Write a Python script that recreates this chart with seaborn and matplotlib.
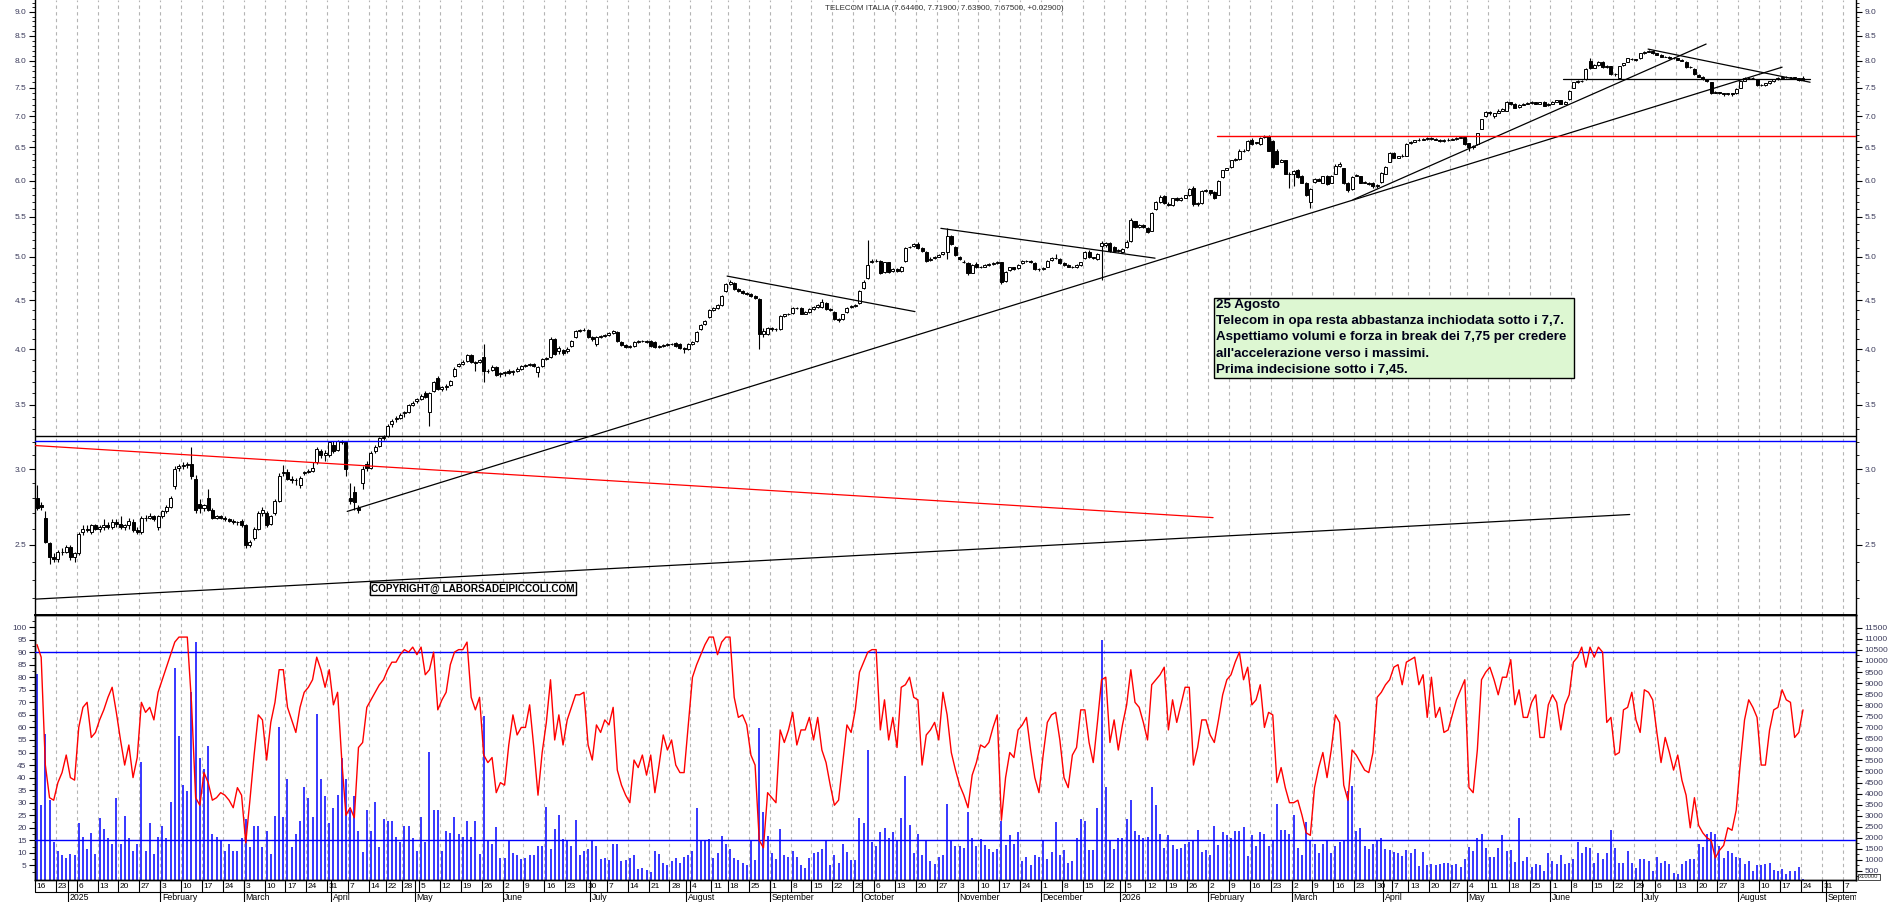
import numpy as np
import pandas as pd
import matplotlib
matplotlib.use("Agg")
import matplotlib.pyplot as plt
import matplotlib.transforms as mtransforms
from matplotlib.patches import Rectangle
from matplotlib.ticker import FixedLocator, FixedFormatter, NullFormatter
import seaborn as sns

# ------------------------------------------------------------------ data
title_text = "TELECOM ITALIA (7.64400, 7.71900, 7.63900, 7.67500, +0.02900)"
note_lines = ["25 Agosto",
              "Telecom in opa resta abbastanza inchiodata sotto i 7,7.",
              "Aspettiamo volumi e forza in break dei 7,75 per credere",
              "all'accelerazione verso i massimi.",
              "Prima indecisione sotto i 7,45."]
copyright_text = "COPYRIGHT@ LABORSADEIPICCOLI.COM"

first_day = "2024-12-16"
last_axis_day = "2026-09-11"
holidays = ["2024-12-24", "2024-12-25", "2024-12-26", "2024-12-31", "2025-01-01",
            "2025-04-18", "2025-04-21", "2025-05-01", "2025-08-15", "2025-12-24",
            "2025-12-25", "2025-12-26", "2025-12-31", "2026-01-01", "2026-04-03",
            "2026-04-06", "2026-05-01"]
month_names = ["January", "February", "March", "April", "May", "June", "July",
               "August", "September", "October", "November", "December"]

opens = [
    2.80, 2.75, 2.67, 2.51, 2.43,
    2.42, 2.46,
    2.46, 2.49, 2.43,
    2.45, 2.58, 2.60, 2.58, 2.62,
    2.60, 2.61, 2.62, 2.61, 2.64,
    2.63, 2.61, 2.62, 2.64, 2.59,
    2.58, 2.67, 2.67, 2.68, 2.61,
    2.68, 2.71, 2.74, 2.88, 3.01,
    3.02, 3.03, 3.04, 2.93, 2.76,
    2.73, 2.80, 2.72, 2.67, 2.68,
    2.67, 2.66, 2.65, 2.64, 2.65,
    2.62, 2.50, 2.54, 2.60, 2.70,
    2.70, 2.63, 2.70, 2.78, 2.97,
    2.98, 2.93, 2.92, 2.89, 2.97,
    2.98, 2.99, 3.05, 3.13, 3.10,
    3.10, 3.18, 3.14, 3.21, 3.20,
    2.80, 2.84, 2.73, 2.90, 3.04,
    3.01, 3.13, 3.17, 3.23,
    3.25, 3.34, 3.38, 3.39,
    3.43, 3.44, 3.50, 3.53,
    3.55, 3.60, 3.44, 3.62, 3.73,
    3.64, 3.65, 3.67, 3.75, 3.84,
    3.86, 3.89, 3.95, 3.88, 3.88,
    3.93, 3.80, 3.81, 3.83, 3.77,
    3.78, 3.80, 3.79, 3.80, 3.82,
    3.84, 3.85, 3.86, 3.79, 3.84,
    3.91, 3.93, 4.10, 3.98, 3.99,
    3.98, 4.03, 4.12, 4.18, 4.19,
    4.19, 4.12, 4.05, 4.12, 4.13,
    4.14, 4.16, 4.17, 4.07, 4.04,
    4.02, 4.03, 4.07, 4.08, 4.08,
    4.08, 4.07, 4.02, 4.03, 4.04,
    4.05, 4.06, 4.05, 4.01, 4.00,
    4.05, 4.08, 4.20, 4.25, 4.32,
    4.40, 4.42, 4.45, 4.60,
    4.68, 4.69, 4.62, 4.60, 4.58,
    4.57, 4.55, 4.52, 4.15, 4.15,
    4.21, 4.20, 4.20, 4.33, 4.35,
    4.37, 4.42, 4.42, 4.36, 4.38,
    4.41, 4.43, 4.43, 4.47, 4.41,
    4.38, 4.30, 4.30, 4.38, 4.43,
    4.44, 4.47, 4.63, 4.75, 4.93,
    4.95, 4.95, 4.82, 4.93, 4.83,
    4.85, 4.83, 4.95, 5.11, 5.13,
    5.15, 5.10, 5.06, 4.96, 4.98,
    5.00, 5.03, 5.05, 5.25, 5.12,
    5.00, 4.94, 4.92, 4.81, 4.91,
    4.87, 4.88, 4.90, 4.91, 4.92,
    4.93, 4.71, 4.84, 4.87, 4.86,
    4.92, 4.95, 4.95, 4.92, 4.85,
    4.85, 4.88, 4.96, 4.98, 4.97,
    4.92, 4.90, 4.88, 4.87, 4.90,
    4.98, 5.06, 4.99, 4.97, 5.13,
    5.14, 5.17,
    5.12, 5.07, 5.06,
    5.12, 5.19, 5.44, 5.37, 5.39,
    5.36, 5.32, 5.60, 5.70, 5.78,
    5.67, 5.66, 5.75, 5.73, 5.76,
    5.79, 5.90, 5.67, 5.68, 5.85,
    5.86, 5.84, 5.80, 6.05, 6.16,
    6.20, 6.30, 6.32, 6.45, 6.46,
    6.62, 6.56, 6.55, 6.66, 6.68,
    6.60, 6.45, 6.28, 6.30, 6.10,
    6.10, 6.16, 6.07, 5.97, 5.70,
    5.98, 6.02, 5.97, 6.06, 5.97,
    6.10, 6.22, 6.18, 5.97, 5.88,
    6.07, 6.06, 5.97, 5.96, 5.97,
    5.92, 5.98, 6.10, 6.28,
    6.41, 6.34, 6.36, 6.37,
    6.56, 6.59, 6.61, 6.62, 6.63,
    6.64, 6.63, 6.62, 6.60, 6.61,
    6.62, 6.63, 6.65, 6.66,
    6.56, 6.50, 6.55, 6.80, 7.00,
    7.07, 7.00, 7.06, 7.10, 7.10,
    7.24, 7.22, 7.16, 7.20, 7.22,
    7.23, 7.24, 7.22, 7.24, 7.19,
    7.22, 7.25, 7.28, 7.22, 7.30,
    7.50, 7.60, 7.62, 7.65, 8.00,
    7.87, 7.92, 7.98, 7.88, 7.90,
    7.75, 7.68, 7.92, 7.98, 8.04,
    8.03, 8.05, 8.15, 8.18, 8.20,
    8.15, 8.12, 8.08, 8.08, 8.05,
    8.05, 8.02, 7.98, 7.88, 7.85,
    7.74, 7.70, 7.65, 7.60, 7.41,
    7.42, 7.40, 7.38, 7.40, 7.40,
    7.50, 7.63, 7.68, 7.68, 7.65,
    7.55, 7.55, 7.58, 7.62, 7.65,
    7.68, 7.70, 7.69, 7.69, 7.67,
    7.644,
]

highs = [
    2.89, 2.77, 2.71, 2.52, 2.45,
    2.47, 2.48,
    2.50, 2.50, 2.46,
    2.58, 2.62, 2.62, 2.63, 2.63,
    2.62, 2.66, 2.64, 2.66, 2.66,
    2.68, 2.63, 2.67, 2.66, 2.61,
    2.68, 2.69, 2.70, 2.69, 2.69,
    2.72, 2.75, 2.81, 3.02, 3.04,
    3.05, 3.05, 3.16, 2.96, 2.79,
    2.76, 2.86, 2.73, 2.69, 2.69,
    2.68, 2.67, 2.66, 2.65, 2.66,
    2.63, 2.53, 2.61, 2.71, 2.74,
    2.71, 2.69, 2.79, 2.97, 3.03,
    3.00, 2.95, 2.94, 2.95, 2.99,
    3.00, 3.05, 3.16, 3.15, 3.14,
    3.21, 3.21, 3.22, 3.22, 3.21,
    2.90, 2.88, 2.75, 3.02, 3.06,
    3.13, 3.18, 3.24, 3.26,
    3.34, 3.38, 3.41, 3.43,
    3.45, 3.51, 3.53, 3.56,
    3.59, 3.62, 3.61, 3.71, 3.75,
    3.66, 3.68, 3.72, 3.83, 3.87,
    3.90, 3.96, 3.96, 3.89, 3.91,
    4.05, 3.82, 3.85, 3.84, 3.79,
    3.80, 3.82, 3.81, 3.83, 3.85,
    3.86, 3.87, 3.87, 3.84, 3.92,
    3.93, 4.12, 4.11, 4.03, 4.00,
    4.02, 4.09, 4.19, 4.20, 4.21,
    4.20, 4.13, 4.13, 4.14, 4.15,
    4.17, 4.19, 4.18, 4.08, 4.05,
    4.04, 4.08, 4.09, 4.09, 4.09,
    4.09, 4.08, 4.04, 4.05, 4.06,
    4.06, 4.07, 4.06, 4.02, 4.06,
    4.08, 4.18, 4.25, 4.29, 4.41,
    4.43, 4.46, 4.56, 4.69,
    4.72, 4.70, 4.63, 4.61, 4.59,
    4.58, 4.56, 4.53, 4.21, 4.22,
    4.22, 4.21, 4.34, 4.36, 4.37,
    4.43, 4.43, 4.43, 4.39, 4.42,
    4.44, 4.46, 4.52, 4.48, 4.42,
    4.39, 4.31, 4.36, 4.43, 4.45,
    4.46, 4.61, 4.72, 5.20, 4.97,
    4.97, 4.96, 4.94, 4.94, 4.86,
    4.86, 4.89, 5.11, 5.13, 5.16,
    5.18, 5.11, 5.07, 4.99, 5.01,
    5.03, 5.06, 5.35, 5.27, 5.13,
    5.01, 4.96, 4.94, 4.91, 4.93,
    4.89, 4.91, 4.92, 4.93, 4.95,
    4.94, 4.83, 4.88, 4.88, 4.91,
    4.96, 4.96, 4.96, 4.93, 4.86,
    4.87, 4.96, 4.99, 5.03, 4.98,
    4.93, 4.91, 4.89, 4.91, 4.94,
    5.07, 5.08, 5.00, 5.04, 5.19,
    5.18, 5.18,
    5.13, 5.09, 5.10,
    5.20, 5.48, 5.45, 5.40, 5.40,
    5.37, 5.56, 5.72, 5.79, 5.79,
    5.70, 5.76, 5.77, 5.77, 5.80,
    5.90, 5.92, 5.70, 5.86, 5.88,
    5.87, 5.85, 6.01, 6.16, 6.19,
    6.31, 6.34, 6.47, 6.47, 6.61,
    6.64, 6.59, 6.66, 6.70, 6.69,
    6.62, 6.47, 6.32, 6.31, 6.12,
    6.16, 6.17, 6.08, 5.98, 5.90,
    6.04, 6.04, 6.07, 6.08, 6.08,
    6.24, 6.28, 6.19, 5.98, 6.06,
    6.09, 6.07, 5.99, 5.98, 5.98,
    5.95, 6.12, 6.22, 6.42,
    6.43, 6.37, 6.39, 6.56,
    6.60, 6.62, 6.64, 6.65, 6.66,
    6.66, 6.65, 6.63, 6.63, 6.64,
    6.64, 6.66, 6.67, 6.68,
    6.57, 6.54, 6.73, 6.96, 7.09,
    7.09, 7.06, 7.12, 7.14, 7.26,
    7.25, 7.23, 7.21, 7.23, 7.24,
    7.26, 7.25, 7.25, 7.26, 7.23,
    7.26, 7.29, 7.29, 7.26, 7.46,
    7.61, 7.64, 7.64, 7.86, 8.05,
    7.94, 7.99, 7.99, 7.92, 7.91,
    7.77, 7.91, 7.96, 8.06, 8.05,
    8.04, 8.16, 8.20, 8.22, 8.21,
    8.16, 8.13, 8.10, 8.09, 8.07,
    8.06, 8.03, 7.99, 7.90, 7.86,
    7.75, 7.71, 7.66, 7.61, 7.44,
    7.43, 7.41, 7.41, 7.41, 7.49,
    7.63, 7.69, 7.70, 7.70, 7.66,
    7.56, 7.59, 7.63, 7.66, 7.69,
    7.71, 7.71, 7.70, 7.70, 7.68,
    7.719,
]

lows = [
    2.72, 2.72, 2.51, 2.39, 2.40,
    2.40, 2.44,
    2.45, 2.41, 2.40,
    2.44, 2.56, 2.58, 2.57, 2.59,
    2.58, 2.59, 2.60, 2.60, 2.61,
    2.60, 2.59, 2.60, 2.58, 2.57,
    2.57, 2.65, 2.66, 2.65, 2.59,
    2.67, 2.70, 2.73, 2.86, 2.99,
    3.00, 3.01, 2.93, 2.70, 2.70,
    2.71, 2.71, 2.66, 2.66, 2.66,
    2.65, 2.64, 2.63, 2.62, 2.61,
    2.48, 2.49, 2.53, 2.59, 2.68,
    2.61, 2.62, 2.69, 2.77, 2.95,
    2.92, 2.90, 2.89, 2.87, 2.96,
    2.97, 2.98, 3.04, 3.08, 3.06,
    3.09, 3.12, 3.13, 3.19, 2.95,
    2.76, 2.72, 2.70, 2.86, 2.99,
    3.00, 3.12, 3.16, 3.22,
    3.24, 3.32, 3.36, 3.38,
    3.40, 3.43, 3.49, 3.52,
    3.54, 3.56, 3.33, 3.61, 3.63,
    3.62, 3.63, 3.66, 3.74, 3.83,
    3.85, 3.88, 3.87, 3.80, 3.87,
    3.70, 3.78, 3.80, 3.75, 3.74,
    3.75, 3.77, 3.76, 3.79, 3.81,
    3.83, 3.84, 3.83, 3.74, 3.83,
    3.90, 3.92, 3.95, 3.96, 3.95,
    3.97, 4.02, 4.11, 4.17, 4.18,
    4.11, 4.08, 4.03, 4.11, 4.12,
    4.13, 4.15, 4.07, 4.03, 4.01,
    4.01, 4.02, 4.06, 4.07, 4.06,
    4.02, 4.01, 4.01, 4.02, 4.03,
    4.04, 4.02, 4.00, 3.97, 3.99,
    4.04, 4.07, 4.19, 4.24, 4.31,
    4.39, 4.41, 4.44, 4.59,
    4.67, 4.61, 4.59, 4.57, 4.56,
    4.54, 4.52, 4.00, 4.12, 4.14,
    4.18, 4.18, 4.19, 4.32, 4.34,
    4.36, 4.41, 4.35, 4.35, 4.37,
    4.40, 4.42, 4.42, 4.40, 4.39,
    4.29, 4.27, 4.29, 4.37, 4.42,
    4.43, 4.46, 4.62, 4.74, 4.92,
    4.94, 4.79, 4.81, 4.81, 4.82,
    4.82, 4.82, 4.94, 5.10, 5.12,
    5.09, 5.06, 4.94, 4.95, 4.97,
    4.99, 5.02, 4.97, 5.14, 5.01,
    4.96, 4.92, 4.78, 4.80, 4.86,
    4.86, 4.87, 4.89, 4.90, 4.91,
    4.68, 4.70, 4.83, 4.84, 4.85,
    4.91, 4.93, 4.92, 4.84, 4.83,
    4.84, 4.87, 4.95, 4.97, 4.91,
    4.89, 4.87, 4.86, 4.86, 4.89,
    4.97, 4.98, 4.97, 4.96, 4.72,
    5.12, 5.06,
    5.06, 5.05, 5.05,
    5.10, 5.18, 5.36, 5.36, 5.36,
    5.29, 5.31, 5.59, 5.69, 5.67,
    5.64, 5.65, 5.71, 5.72, 5.75,
    5.78, 5.65, 5.65, 5.67, 5.84,
    5.80, 5.74, 5.79, 6.04, 6.15,
    6.19, 6.29, 6.31, 6.43, 6.45,
    6.54, 6.55, 6.54, 6.65, 6.44,
    6.18, 6.24, 6.27, 6.09, 5.90,
    5.92, 6.04, 5.96, 5.78, 5.62,
    5.96, 5.99, 5.96, 5.94, 5.96,
    6.09, 6.20, 5.95, 5.84, 5.87,
    6.06, 5.96, 5.96, 5.94, 5.90,
    5.90, 5.97, 6.09, 6.27,
    6.33, 6.33, 6.35, 6.36,
    6.55, 6.58, 6.60, 6.61, 6.62,
    6.62, 6.61, 6.59, 6.59, 6.60,
    6.61, 6.62, 6.64, 6.54,
    6.45, 6.48, 6.54, 6.79, 6.99,
    7.03, 6.98, 7.05, 7.09, 7.09,
    7.20, 7.14, 7.15, 7.19, 7.21,
    7.22, 7.21, 7.21, 7.17, 7.18,
    7.21, 7.24, 7.21, 7.21, 7.29,
    7.49, 7.59, 7.60, 7.64, 7.84,
    7.86, 7.91, 7.87, 7.87, 7.74,
    7.72, 7.66, 7.91, 7.97, 8.01,
    8.00, 8.04, 8.14, 8.17, 8.13,
    8.11, 8.07, 8.07, 8.04, 8.04,
    8.01, 7.99, 7.87, 7.86, 7.74,
    7.69, 7.64, 7.61, 7.39, 7.40,
    7.38, 7.36, 7.37, 7.36, 7.39,
    7.49, 7.62, 7.66, 7.67, 7.54,
    7.53, 7.54, 7.57, 7.61, 7.64,
    7.67, 7.68, 7.67, 7.66, 7.63,
    7.639,
]

closes = [
    2.73, 2.74, 2.52, 2.43, 2.42,
    2.46, 2.46,
    2.49, 2.43, 2.45,
    2.57, 2.60, 2.59, 2.62, 2.60,
    2.61, 2.62, 2.61, 2.64, 2.63,
    2.61, 2.62, 2.65, 2.59, 2.58,
    2.67, 2.67, 2.68, 2.66, 2.68,
    2.71, 2.74, 2.80, 3.00, 3.02,
    3.03, 3.04, 2.95, 2.72, 2.73,
    2.75, 2.72, 2.67, 2.68, 2.67,
    2.66, 2.65, 2.64, 2.64, 2.62,
    2.50, 2.52, 2.60, 2.70, 2.72,
    2.62, 2.68, 2.78, 2.95, 2.98,
    2.93, 2.92, 2.92, 2.94, 2.98,
    2.99, 3.01, 3.15, 3.10, 3.12,
    3.20, 3.13, 3.21, 3.20, 3.00,
    2.78, 2.77, 2.72, 3.00, 3.01,
    3.12, 3.16, 3.23, 3.24,
    3.33, 3.37, 3.39, 3.42,
    3.44, 3.50, 3.52, 3.55,
    3.58, 3.57, 3.60, 3.70, 3.64,
    3.65, 3.66, 3.71, 3.82, 3.86,
    3.88, 3.95, 3.88, 3.87, 3.90,
    3.80, 3.80, 3.83, 3.76, 3.78,
    3.79, 3.78, 3.80, 3.82, 3.84,
    3.85, 3.86, 3.84, 3.83, 3.91,
    3.92, 4.10, 3.96, 4.01, 3.97,
    4.00, 4.08, 4.18, 4.19, 4.19,
    4.12, 4.10, 4.12, 4.13, 4.14,
    4.16, 4.18, 4.08, 4.04, 4.02,
    4.03, 4.07, 4.08, 4.08, 4.07,
    4.03, 4.02, 4.03, 4.04, 4.05,
    4.05, 4.03, 4.01, 4.00, 4.05,
    4.07, 4.17, 4.24, 4.28, 4.40,
    4.42, 4.45, 4.55, 4.68,
    4.70, 4.62, 4.60, 4.58, 4.57,
    4.55, 4.53, 4.15, 4.18, 4.21,
    4.20, 4.20, 4.33, 4.35, 4.36,
    4.42, 4.42, 4.36, 4.38, 4.41,
    4.43, 4.45, 4.48, 4.41, 4.40,
    4.30, 4.29, 4.35, 4.42, 4.44,
    4.45, 4.60, 4.70, 4.90, 4.95,
    4.95, 4.80, 4.93, 4.82, 4.85,
    4.83, 4.88, 5.10, 5.12, 5.15,
    5.10, 5.07, 4.95, 4.97, 5.00,
    5.02, 5.05, 5.25, 5.15, 5.02,
    4.97, 4.93, 4.81, 4.90, 4.87,
    4.88, 4.90, 4.91, 4.92, 4.94,
    4.70, 4.82, 4.87, 4.85, 4.90,
    4.95, 4.95, 4.93, 4.85, 4.85,
    4.86, 4.95, 4.98, 4.98, 4.92,
    4.90, 4.88, 4.87, 4.90, 4.93,
    5.06, 4.99, 4.98, 5.03, 5.16,
    5.17, 5.07,
    5.07, 5.08, 5.09,
    5.18, 5.46, 5.37, 5.39, 5.37,
    5.30, 5.55, 5.70, 5.77, 5.68,
    5.66, 5.75, 5.73, 5.76, 5.79,
    5.88, 5.67, 5.68, 5.85, 5.86,
    5.82, 5.75, 6.00, 6.15, 6.18,
    6.30, 6.32, 6.45, 6.45, 6.60,
    6.55, 6.58, 6.65, 6.68, 6.45,
    6.20, 6.25, 6.30, 6.10, 6.09,
    6.14, 6.05, 5.97, 5.80, 5.88,
    6.02, 6.00, 6.06, 5.95, 6.07,
    6.22, 6.24, 5.96, 5.86, 6.05,
    6.08, 5.97, 5.98, 5.95, 5.92,
    5.94, 6.11, 6.20, 6.41,
    6.34, 6.36, 6.37, 6.55,
    6.59, 6.61, 6.62, 6.63, 6.64,
    6.63, 6.62, 6.60, 6.61, 6.62,
    6.63, 6.65, 6.66, 6.55,
    6.50, 6.52, 6.72, 6.95, 7.08,
    7.05, 7.05, 7.10, 7.12, 7.25,
    7.22, 7.15, 7.20, 7.22, 7.23,
    7.25, 7.22, 7.24, 7.18, 7.22,
    7.25, 7.28, 7.22, 7.25, 7.45,
    7.60, 7.62, 7.62, 7.85, 7.86,
    7.92, 7.98, 7.88, 7.90, 7.75,
    7.75, 7.90, 7.95, 8.05, 8.03,
    8.02, 8.15, 8.18, 8.20, 8.15,
    8.12, 8.08, 8.08, 8.05, 8.05,
    8.02, 8.00, 7.88, 7.88, 7.75,
    7.70, 7.65, 7.62, 7.40, 7.42,
    7.40, 7.38, 7.40, 7.38, 7.48,
    7.62, 7.68, 7.68, 7.68, 7.55,
    7.55, 7.58, 7.62, 7.65, 7.68,
    7.70, 7.69, 7.69, 7.68, 7.646,
    7.675,
]

oscillator = [
    93, 88, 45, 32, 31,
    38, 42,
    49, 40, 39,
    60, 68, 70, 56, 58,
    63, 67, 72, 76, 66,
    55, 45, 53, 40, 48,
    70, 66, 68, 63, 74,
    79, 84, 89, 94, 96,
    96, 96, 70, 32, 29,
    42, 38, 31, 32, 34,
    33, 31, 28, 36, 33,
    14, 31, 49, 65, 63,
    47, 62, 70, 83, 83,
    68, 63, 58, 68, 74,
    76, 79, 88, 83, 76,
    83, 69, 74, 47, 25,
    28, 24, 52, 54, 68,
    71, 74, 77, 79,
    83, 86, 86, 89,
    91, 90, 92, 89,
    92, 81, 83, 90, 67,
    71, 74, 85, 90, 91,
    91, 94, 72, 67, 72,
    49, 46, 48, 34, 38,
    37, 53, 65, 57, 60,
    60, 69, 52, 33, 50,
    62, 79, 55, 65, 53,
    63, 68, 73, 73, 74,
    53, 47, 61, 58, 63,
    61, 68, 43, 37, 33,
    30, 47, 44, 49, 41,
    49, 34, 45, 57, 51,
    55, 45, 42, 42, 61,
    80, 85, 89, 93, 96,
    96, 89, 94, 96,
    96, 72, 64, 65, 61,
    49, 45, 15, 12, 34,
    32, 30, 59, 54, 59,
    66, 53, 59, 59, 64,
    55, 64, 51, 46, 37,
    29, 31, 46, 61, 58,
    67, 82, 86, 90, 91,
    91, 59, 71, 55, 64,
    52, 76, 77, 80, 72,
    71, 45, 57, 59, 62,
    55, 74, 65, 50, 43,
    37, 33, 28, 41, 46,
    53, 52, 54, 60, 65,
    23, 40, 50, 48, 59,
    61, 64, 51, 40, 34,
    49, 62, 65, 66, 55,
    40, 36, 49, 52, 67,
    67, 54, 46, 62, 79,
    80, 54,
    63, 51, 61,
    69, 83, 70, 68, 62,
    55, 77, 79, 81, 84,
    59, 71, 62, 69, 76,
    76, 45, 52, 63, 63,
    57, 54, 63, 73, 79,
    81, 86, 90, 79, 84,
    69, 71, 77, 60, 66,
    65, 38, 44, 36, 30,
    30, 31, 25, 18, 17,
    36, 44, 50, 40, 51,
    65, 62, 37, 31, 51,
    49, 46, 43, 42, 50,
    72, 74, 77, 79,
    84, 85, 77, 86,
    87, 88, 77, 81, 64,
    80, 64, 68, 58, 59,
    65, 71, 75, 79,
    36, 34, 51, 79, 82,
    84, 79, 73, 80, 80,
    87, 69, 75, 64, 64,
    70, 73, 56, 56, 69,
    73, 70, 59, 69, 73,
    86, 88, 92, 84, 92,
    88, 92, 90, 62, 64,
    49, 50, 67, 68, 74,
    63, 58, 75, 74, 71,
    58, 46, 56, 50, 43,
    49, 39, 33, 20, 32,
    21, 18, 16, 15, 8,
    11, 13, 20, 19, 27,
    46, 63, 71, 68, 64,
    45, 45, 59, 67, 68,
    75, 71, 70, 56, 58,
    67,
]

volume = [
    9400, 3500, 6700, 3700, 1800,
    1400, 1200,
    1100, 1250, 1200,
    2650, 2050, 1500, 2200, 1250,
    2900, 2400, 1970, 1700, 3800,
    1700, 3000, 1970, 1400, 1700,
    5450, 1400, 2650, 1250, 2050,
    2550, 1970, 3600, 9700, 6600,
    4400, 4100, 8600, 10860, 5600,
    5100, 6150, 2150, 2050, 1880,
    1400, 1700, 1400, 1400, 1970,
    2850, 1600, 2550, 2550, 1600,
    2300, 1250, 3000, 7000, 2950,
    4670, 1600, 2150, 2750, 4300,
    3800, 2950, 7600, 4670, 3900,
    2650, 3350, 3950, 5600, 4670,
    3250, 3900, 2300, 1350, 3250,
    2300, 3600, 1600, 2850,
    2750, 2750, 2050, 1800,
    2550, 2550, 1970, 1400,
    2950, 1800, 5900, 3250, 3250,
    1400, 2300, 2200, 2950, 2150,
    2050, 2750, 2050, 2750, 1250,
    7500, 1880, 1700, 2500, 1100,
    1100, 1850, 1300, 1200, 1050,
    1100, 1200, 1200, 1630, 1630,
    3400, 1500, 2400, 3050, 1950,
    1850, 1630, 2800, 1200, 1400,
    1500, 1850, 1630, 1050, 1100,
    1000, 1700, 1700, 950, 1000,
    1100, 1200, 580, 650, 540,
    430, 1400, 1250, 870, 760,
    950, 1100, 870, 1150, 1200,
    1400, 3350, 1900, 1900, 1950,
    1100, 1300, 2070, 1740,
    1500, 1100, 1000, 870, 760,
    1850, 1000, 6950, 3150, 2070,
    1300, 1050, 2400, 1200, 1150,
    1400, 1150, 760, 650, 1100,
    1300, 1350, 1500, 1850, 760,
    1200, 870, 1700, 1350, 1000,
    1000, 2900, 2650, 5970, 1800,
    1630, 2280, 2450, 2000, 2280,
    1850, 2900, 4800, 2600, 1300,
    2170, 1200, 1900, 950, 800,
    1150, 1200, 3550, 1850, 1630,
    1610, 1540, 3180, 1990, 1610,
    1940, 1690, 1490, 1370, 1490,
    2780, 1690, 2120, 1740, 2240,
    950, 1120, 790, 1240, 1120,
    1860, 1050, 1370, 2730, 1240,
    1440, 870, 950, 1990, 2860,
    2780, 1440, 1440, 3350, 10950,
    4280, 1860,
    1490, 1990, 1990,
    2860, 3700, 2290, 2120, 1990,
    2040, 4280, 3480, 2190, 1540,
    2120, 1690, 1490, 1540, 1740,
    1790, 1860, 2360, 1370, 1440,
    1240, 2540, 1690, 2240, 2120,
    1990, 2290, 2290, 2490, 1190,
    2120, 1610, 2240, 2190, 1610,
    1860, 3530, 2360, 2360, 2190,
    3030, 1540, 1240, 2730, 1860,
    1740, 1290, 1740, 1860, 1290,
    1610, 1790, 1860, 4100, 4350,
    2290, 2440, 1610, 1490, 1740,
    1860, 1990, 1490, 1440,
    1370, 1290, 1190, 1440,
    1290, 1490, 740, 1370, 790,
    810, 750, 810, 860, 860,
    750, 810, 680, 1020,
    1590, 1380, 2000, 2160, 1540,
    1150, 1150, 1540, 2110, 1380,
    1430, 910, 2890, 940, 1120,
    680, 810, 750, 490, 1330,
    960, 810, 1200, 810, 880,
    1020, 1800, 1330, 1590, 1540,
    860, 1330, 1020, 1330, 2370,
    1540, 860, 860, 1380, 860,
    650, 1020, 1020, 940, 490,
    1120, 860, 940, 810, 420,
    340, 810, 940, 1020, 1020,
    1720, 1590, 2160, 2240, 2160,
    1640, 1070, 1380, 1330, 1150,
    1070, 810, 960, 490, 750,
    750, 810, 860, 540, 490,
    600, 340, 490, 490, 680,
    150,
]

# trend lines drawn on the price panel: (start day index, start price) -> (end day index, end price)
trend_start_idx = [-0.5, -0.5, 74.3, 315.2, 165.3, 216.5, 385.9, 365.5]
trend_start_px = [2.195, 3.175, 2.71, 5.73, 4.77, 5.35, 8.23, 7.66]
trend_end_idx = [381.5, 281.7, 418.0, 399.8, 210.3, 267.8, 424.7, 424.7]
trend_end_px = [2.69, 2.67, 7.88, 8.33, 4.38, 4.98, 7.60, 7.66]
trend_colors = ["black", "red", "black", "black", "black", "black", "black", "black"]

level_px = [3.245, 3.21, 6.68]
level_start_idx = [-0.5, -0.5, 282.6]
level_colors = ["black", "blue", "red"]

osc_levels = [90, 15]

price_ticks = [2.5, 3.0, 3.5, 4.0, 4.5, 5.0, 5.5, 6.0, 6.5, 7.0, 7.5, 8.0, 8.5, 9.0]
osc_ticks = list(range(5, 101, 5))
vol_ticks = list(range(500, 11501, 500))

# ------------------------------------------------------------------ style
sns.set_theme(style="white")
plt.rcParams["font.family"] = ["Liberation Sans", "DejaVu Sans"]
plt.rcParams["axes.linewidth"] = 1.0

W, H = 1890, 902
fig = plt.figure(figsize=(W / 100, H / 100), dpi=100)
fig.patch.set_facecolor("white")

LEFT, RIGHT = 35, 1856
SEP, BOT = 615, 880
ax_up = fig.add_axes([LEFT / W, 1 - SEP / H, (RIGHT - LEFT) / W, SEP / H])
ax_low = fig.add_axes([LEFT / W, 1 - BOT / H, (RIGHT - LEFT) / W, (BOT - SEP) / H])
ax_vol = ax_low.twinx()

# calendar / positions
cal = pd.bdate_range(first_day, last_axis_day)
cal = cal[~cal.isin(pd.to_datetime(holidays))]
pos_all = np.arange(len(cal))
n = min(len(closes), len(opens), len(highs), len(lows))
idx = np.arange(n)

XMIN, XMAX = -0.48, 435.7

o = np.array(opens[:n]); h = np.array(highs[:n]); l = np.array(lows[:n]); c = np.array(closes[:n])

# week and month starts
monday = cal - pd.to_timedelta(cal.weekday, unit="D")
week_first = pd.Series(pos_all).groupby(np.asarray(monday)).min().values
month_first = pd.Series(pos_all).groupby([cal.year, cal.month]).min().values
week_first = [p for p in week_first if not (cal[p].month == 12 and cal[p].day >= 27)]
month_first = [p for p in month_first if cal[p].day <= 5]

grid_kw = dict(color="#b4b4b4", lw=0.8, ls=(0, (3, 3)))
for p in week_first:
    ax_up.axvline(p - 0.5, zorder=0.5, **grid_kw)
    ax_vol.axvline(p - 0.5, zorder=0.5, **grid_kw)

# ------------------------------------------------------------------ price panel
ax_up.set_yscale("log")
ax_up.vlines(idx, l, h, color="black", lw=0.8, zorder=3)
body_col = np.where(c >= o, "white", "black")
ax_up.bar(idx, np.abs(c - o), bottom=np.minimum(o, c), width=0.72,
          color=body_col, edgecolor="black", linewidth=0.7, zorder=4)

for xs, ps, xe, pe, col in zip(trend_start_idx, trend_start_px, trend_end_idx,
                               trend_end_px, trend_colors):
    ax_up.plot([xs, xe], [ps, pe], color=col, lw=0.9, zorder=5)
for pv, xs, col in zip(level_px, level_start_idx, level_colors):
    ax_up.plot([xs, XMAX], [pv, pv], color=col, lw=1.0, zorder=5)

ax_up.set_xlim(XMIN, XMAX)
ax_up.set_ylim(2.113, 9.26)
ax_up.yaxis.set_major_locator(FixedLocator(price_ticks))
ax_up.yaxis.set_major_formatter(FixedFormatter([f"{v:.1f}" for v in price_ticks]))
minor_px = [round(v, 1) for v in np.arange(2.2, 9.25, 0.1)]
minor_px = [v for v in minor_px if v not in price_ticks]
ax_up.yaxis.set_minor_locator(FixedLocator(minor_px))
ax_up.yaxis.set_minor_formatter(NullFormatter())
ax_up.tick_params(axis="y", which="both", left=True, right=True, labelleft=True,
                  labelright=True, direction="out", labelsize=6,
                  labelcolor="#3c3c5c", color="black", pad=2)
ax_up.tick_params(axis="y", which="major", length=4, width=0.8)
ax_up.tick_params(axis="y", which="minor", length=2, width=0.6)
ax_up.tick_params(axis="x", which="both", bottom=False, labelbottom=False, top=False)
for s in ["left", "right", "bottom"]:
    ax_up.spines[s].set_color("black")
ax_up.spines["bottom"].set_linewidth(1.4)
ax_up.spines["top"].set_visible(False)
ax_up.set_facecolor("white")

# ------------------------------------------------------------------ lower panel
ax_vol.vlines(idx, 0, np.array(volume[:n]), color="blue", lw=1.1, zorder=2)
ax_vol.set_ylim(90, 12081)
ax_vol.yaxis.set_major_locator(FixedLocator(vol_ticks))
ax_vol.yaxis.set_major_formatter(FixedFormatter([str(v) for v in vol_ticks]))
ax_vol.yaxis.set_minor_locator(FixedLocator([v + 250 for v in vol_ticks[:-1]] + [250]))
ax_vol.yaxis.set_minor_formatter(NullFormatter())
ax_vol.tick_params(axis="y", which="both", right=True, left=False, direction="out",
                   labelsize=6, labelcolor="#3c3c5c", color="black", pad=2)
ax_vol.tick_params(axis="y", which="major", length=4, width=0.8)
ax_vol.tick_params(axis="y", which="minor", length=2, width=0.6)
ax_vol.grid(False)

sns.lineplot(x=idx, y=np.array(oscillator[:n]), ax=ax_low, color="red",
             linewidth=1.0, estimator=None, legend=False, zorder=6)
for lv in osc_levels:
    ax_low.axhline(lv, color="blue", lw=1.0, zorder=5)
ax_low.set_xlabel(""); ax_low.set_ylabel("")
ax_low.set_zorder(ax_vol.get_zorder() + 1)
ax_low.patch.set_visible(False)
ax_low.set_ylim(-0.8, 104.8)
ax_low.yaxis.set_major_locator(FixedLocator(osc_ticks))
ax_low.yaxis.set_major_formatter(FixedFormatter([str(v) for v in osc_ticks]))
ax_low.yaxis.set_minor_locator(FixedLocator([v - 2.5 for v in osc_ticks] + [102.5]))
ax_low.yaxis.set_minor_formatter(NullFormatter())
ax_low.tick_params(axis="y", which="both", left=True, right=False, direction="out",
                   labelsize=6, labelcolor="#3c3c5c", color="black", pad=2)
ax_low.tick_params(axis="y", which="major", length=4, width=0.8)
ax_low.tick_params(axis="y", which="minor", length=2, width=0.6)
ax_low.tick_params(axis="x", which="both", bottom=False, labelbottom=False)
for ax in (ax_low, ax_vol):
    ax.set_xlim(XMIN, XMAX)
    for s in ax.spines.values():
        s.set_color("black")
        s.set_linewidth(1.0)

# ------------------------------------------------------------------ date axis rows
trans = mtransforms.blended_transform_factory(ax_low.transData, ax_low.transAxes)
hpx = BOT - SEP
def yfrac(ypix):
    return (BOT - ypix) / hpx

clipbox = mtransforms.TransformedBbox(
    mtransforms.Bbox([[0, -0.2], [1, 1]]), ax_low.transAxes)

row1 = yfrac(892)
row2 = yfrac(903)
ax_low.vlines([p - 0.5 for p in week_first], row1, 0, transform=trans,
              colors="black", lw=0.8, clip_on=False)
ax_low.vlines([p - 0.5 for p in month_first], row2, 0, transform=trans,
              colors="black", lw=0.8, clip_on=False)
ax_low.plot([XMIN, XMAX], [row1, row1], transform=trans, color="black", lw=0.8,
            clip_on=False)
for p in week_first:
    t = ax_low.text(p - 0.1, yfrac(886.5), str(cal[p].day), transform=trans,
                    fontsize=6, ha="left", va="center", color="black")
    t.set_clip_box(clipbox); t.set_clip_on(True)
for p in month_first:
    d = cal[p]
    name = str(d.year) if d.month == 1 else month_names[d.month - 1]
    t = ax_low.text(p - 0.1, yfrac(897.5), name, transform=trans, fontsize=6.3,
                    ha="left", va="center", color="black")
    t.set_clip_box(clipbox); t.set_clip_on(True)

# ------------------------------------------------------------------ texts
fig.text(944 / W, 1 - 8 / H, title_text, ha="center", va="center", fontsize=5.8,
         color="#303030")

fig.add_artist(Rectangle((1214 / W, 1 - 378 / H), 360 / W, 80 / H,
                         transform=fig.transFigure, facecolor="#ddf7d2",
                         edgecolor="black", lw=1.0, zorder=10))
for k, line in enumerate(note_lines):
    fig.text(1216 / W, 1 - (305 + 16.2 * k) / H, line, ha="left", va="center",
             fontsize=9.6, fontweight="bold", color="#000018", zorder=11)

fig.add_artist(Rectangle((370 / W, 1 - 595 / H), 206 / W, 13 / H,
                         transform=fig.transFigure, facecolor="white",
                         edgecolor="black", lw=1.0, zorder=10))
fig.text(473 / W, 1 - 588.5 / H, copyright_text, ha="center", va="center",
         fontsize=7.2, fontweight="bold", color="black", zorder=11)

fig.text(1869 / W, 1 - 877 / H, "x10000", ha="center", va="center", fontsize=4.2,
         color="#303030",
         bbox=dict(boxstyle="square,pad=0.15", fc="white", ec="black", lw=0.5))

fig.savefig("out.png", dpi=100)
